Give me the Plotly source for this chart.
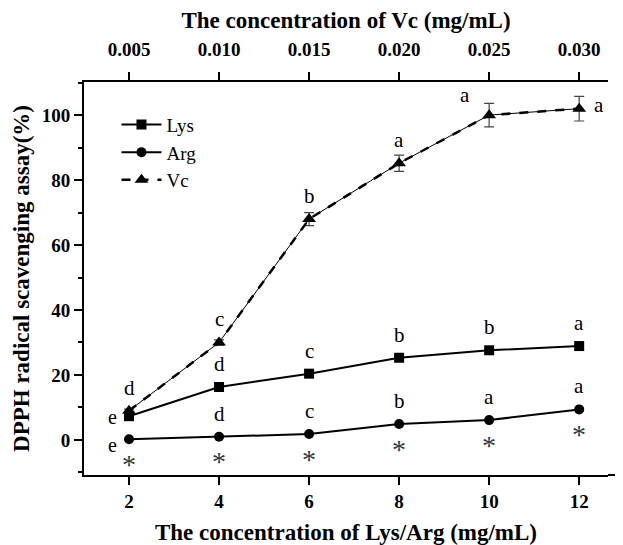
import plotly.graph_objects as go

# ---- data ----
lys_arg_conc = [2, 4, 6, 8, 10, 12]
vc_conc = [0.005, 0.010, 0.015, 0.020, 0.025, 0.030]
vc_tick_text = ["0.005", "0.010", "0.015", "0.020", "0.025", "0.030"]

lys_values = [7.3, 16.3, 20.4, 25.3, 27.6, 28.9]
arg_values = [0.2, 1.0, 1.8, 4.9, 6.1, 9.4]
vc_values = [9.0, 30.0, 68.0, 85.2, 100.0, 102.0]
vc_errors = [0.5, 0.8, 2.0, 2.5, 3.6, 3.8]

vc_letters = ["d", "c", "b", "a", "a", "a"]
lys_letters = ["e", "d", "c", "b", "b", "a"]
arg_letters = ["e", "d", "c", "b", "a", "a"]

FONT = "Liberation Serif"

fig = go.Figure()

fig.add_trace(go.Scatter(
    x=lys_arg_conc, y=lys_values, name="Lys", mode="lines+markers",
    line=dict(color="black", width=2),
    marker=dict(symbol="square", size=10, color="black"),
))
fig.add_trace(go.Scatter(
    x=lys_arg_conc, y=arg_values, name="Arg", mode="lines+markers",
    line=dict(color="black", width=2),
    marker=dict(symbol="circle", size=10, color="black"),
))
# thin solid under-line for Vc
fig.add_trace(go.Scatter(
    x=vc_conc, y=vc_values, xaxis="x2", mode="lines", showlegend=False,
    line=dict(color="black", width=1), hoverinfo="skip",
))
fig.add_trace(go.Scatter(
    x=vc_conc, y=vc_values, xaxis="x2", name="Vc", mode="lines+markers",
    line=dict(color="black", width=2.5, dash="dash"),
    marker=dict(symbol="triangle-up", size=12, color="black"),
    error_y=dict(type="data", array=vc_errors, visible=True,
                 color="#444444", thickness=1.2, width=5),
))

LETTER_FONT = dict(family=FONT, size=21, color="black")
SIDE_FONT = dict(family=FONT, size=20, color="black")
annotations = []
for xv, yv, t in zip(vc_conc, vc_values, vc_letters):
    xs, ys = 0, 23
    if xv == vc_conc[4]:
        xs, ys = -24, 20
    if xv == vc_conc[-1]:
        xs, ys = 20, 4
    annotations.append(dict(x=xv, y=yv, xref="x2", yref="y", text=t,
                            showarrow=False, xshift=xs, yshift=ys,
                            font=LETTER_FONT))
for xv, yv, t in zip(lys_arg_conc, lys_values, lys_letters):
    xs, ys, f = 0, 23, LETTER_FONT
    if xv == 2:
        xs, ys, f = -17, -1, SIDE_FONT
    annotations.append(dict(x=xv, y=yv, xref="x", yref="y", text=t,
                            showarrow=False, xshift=xs, yshift=ys, font=f))
for xv, yv, t in zip(lys_arg_conc, arg_values, arg_letters):
    xs, ys, f = 0, 23, LETTER_FONT
    if xv == 2:
        xs, ys, f = -17, -6, SIDE_FONT
    annotations.append(dict(x=xv, y=yv, xref="x", yref="y", text=t,
                            showarrow=False, xshift=xs, yshift=ys, font=f))
    annotations.append(dict(x=xv, y=yv, xref="x", yref="y", text="*",
                            showarrow=False, xshift=0, yshift=-25,
                            font=dict(family=FONT, size=28, color="#2b3a45")))

TICKFONT = dict(family=FONT, size=19, color="black", weight="bold")
TITLEFONT = dict(family=FONT, size=23, color="black", weight="bold")

# page body has an 8px margin, so the figure is 8px smaller than the window
fig.update_layout(
    width=615, height=537,
    margin=dict(l=76, r=15, t=74, b=70),
    paper_bgcolor="white", plot_bgcolor="white",
    font=dict(family=FONT, color="black"),
    showlegend=True,
    legend=dict(x=0.062, y=0.94, xanchor="left", yanchor="top",
                bgcolor="rgba(0,0,0,0)", font=dict(family=FONT, size=19),
                tracegroupgap=0, itemwidth=40),
    annotations=annotations,
    xaxis=dict(
        range=[1, 12.64], tickvals=lys_arg_conc, automargin=False,
        ticks="outside", ticklen=8, tickwidth=1.5, tickcolor="black",
        showline=True, linecolor="black", linewidth=2,
        showgrid=False, zeroline=False,
        tickfont=TICKFONT,
        title=dict(text="The concentration of Lys/Arg (mg/mL)", standoff=20,
                   font=TITLEFONT),
    ),
    xaxis2=dict(
        overlaying="x", side="top", automargin=False,
        range=[0.0025, 0.0316], tickvals=vc_conc, ticktext=vc_tick_text,
        ticks="outside", ticklen=8, tickwidth=1.5, tickcolor="black",
        ticklabelstandoff=8,
        showline=True, linecolor="black", linewidth=2,
        showgrid=False, zeroline=False,
        tickfont=TICKFONT,
        title=dict(text="The concentration of Vc (mg/mL)", standoff=14,
                   font=TITLEFONT),
    ),
    yaxis=dict(
        range=[-10.8, 110.2], tickvals=[0, 20, 40, 60, 80, 100], automargin=False,
        ticks="outside", ticklen=8, tickwidth=1.5, tickcolor="black",
        minor=dict(tickvals=[-10, 10, 30, 50, 70, 90, 110], ticks="outside",
                   ticklen=4, tickwidth=1.5, tickcolor="black"),
        showline=True, linecolor="black", linewidth=2,
        showgrid=False, zeroline=False,
        tickfont=TICKFONT,
        title=dict(text="DPPH radical scavenging assay(%)", standoff=6,
                   font=TITLEFONT),
    ),
    shapes=[dict(type="line", xref="paper", yref="paper", x0=1, x1=1.04,
                 y0=0, y1=0, line=dict(color="black", width=2))],
)

fig.write_html("out.html")
